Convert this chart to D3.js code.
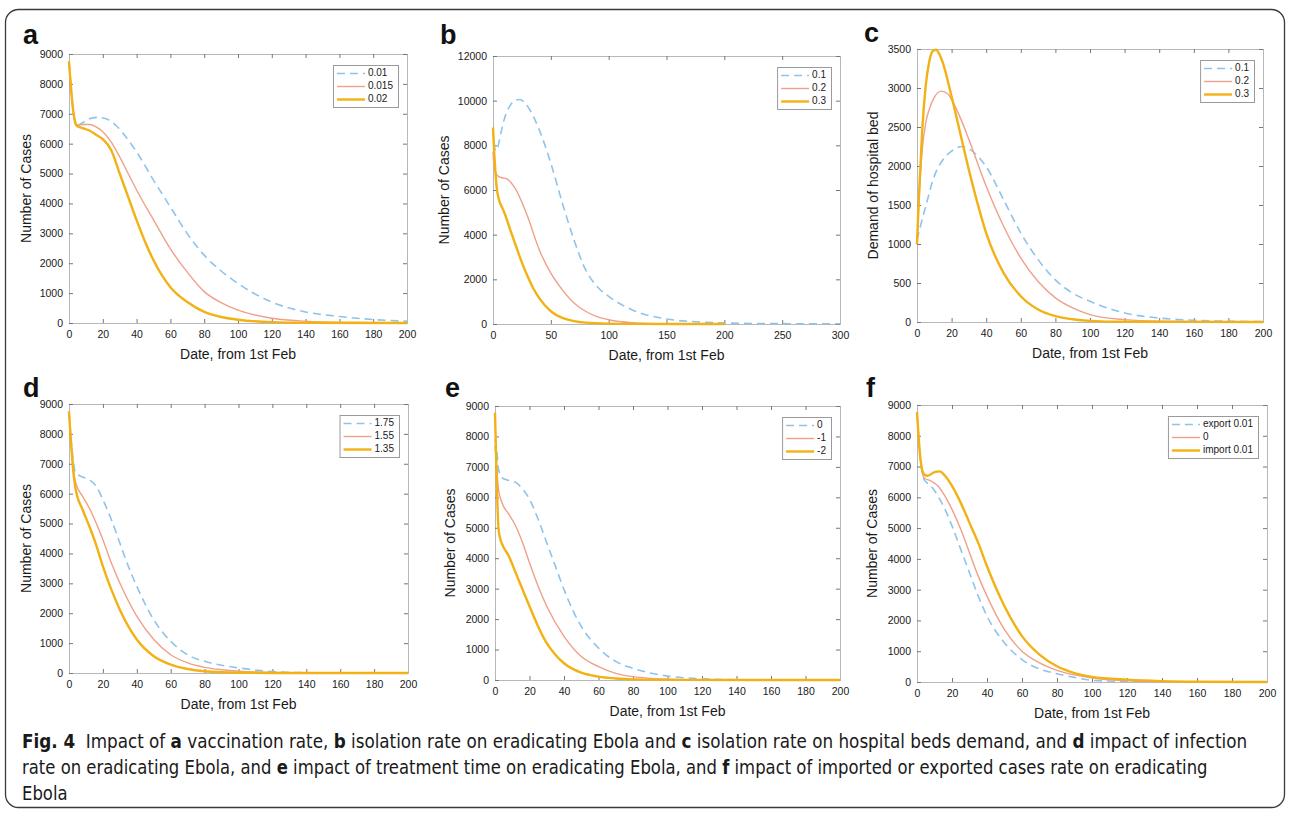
<!DOCTYPE html>
<html>
<head>
<meta charset="utf-8">
<script src="https://cdn.jsdelivr.net/npm/d3@7"></script>
<style>
  body { margin: 0; background: #fff; }
  svg { display: block; }
</style>
</head>
<body>
<div id="viz"></div>
<script>
// ---- data: [day, value] ----
// a: vaccination rate
const a001 = [[0,8750],[1,8000],[2,7350],[3,6900],[4,6680],[5,6620],[8,6700],[12,6830],[17,6880],[22,6830],[28,6600],[34,6200],[40,5725],[50,4780],[60,3880],[70,2990],[80,2270],[90,1740],[100,1320],[120,700],[140,370],[160,220],[180,115],[200,60]]
const a0015 = [[0,8750],[1,8000],[2,7350],[3,6900],[4,6680],[5,6620],[8,6640],[12,6640],[16,6560],[20,6400],[25,6050],[30,5560],[35,5000],[40,4450],[50,3450],[60,2480],[70,1700],[80,1050],[90,680],[100,430],[120,160],[140,60],[160,20],[200,0]]
const a002 = [[0,8750],[1,8000],[2,7350],[3,6900],[4,6650],[5,6580],[8,6520],[12,6440],[16,6300],[20,6150],[25,5780],[30,5000],[35,4220],[40,3440],[45,2720],[50,2100],[60,1200],[70,700],[80,370],[90,200],[100,110],[120,30],[140,10],[200,0]]
// b: isolation rate
const b01 = [[0,8700],[1,8100],[2,7750],[4,7900],[7,8600],[10,9210],[15,9800],[20,10030],[23,10050],[30,9740],[40,8690],[50,7200],[60,5410],[70,3770],[80,2430],[90,1680],[100,1240],[120,640],[150,225],[175,100],[200,45],[250,15],[300,10]]
const b02 = [[0,7700],[1,7050],[3,6700],[5,6600],[8,6550],[12,6500],[16,6300],[20,6000],[25,5450],[30,4800],[40,3320],[50,2280],[60,1530],[70,940],[80,570],[90,330],[100,190],[120,60],[150,10],[200,0]]
const b03 = [[0,8800],[1,7700],[2,6900],[3,6200],[5,5600],[8,5200],[10,4960],[15,4200],[20,3470],[25,2750],[30,2130],[35,1580],[40,1160],[50,570],[60,270],[70,130],[80,60],[100,15],[120,5],[200,0]]
// c: hospital bed demand
const c01 = [[0,1050],[2,1230],[5,1480],[10,1870],[15,2080],[20,2190],[26,2250],[30,2220],[35,2130],[40,1990],[50,1570],[60,1140],[70,800],[80,540],[90,370],[100,265],[120,115],[140,50],[160,22],[180,10],[200,5]]
const c02 = [[0,1000],[1,1500],[3,2200],[5,2550],[7,2720],[10,2880],[14,2960],[18,2920],[20,2850],[25,2620],[30,2340],[40,1740],[50,1230],[60,820],[70,520],[80,310],[90,180],[100,95],[120,30],[140,10],[200,0]]
const c03 = [[0,1000],[1,1550],[2,2000],[3,2450],[5,3020],[7,3330],[9,3470],[11,3490],[13,3430],[15,3320],[20,2890],[25,2420],[30,1950],[35,1520],[40,1140],[50,630],[60,330],[70,160],[80,75],[90,35],[100,15],[120,3],[200,0]]
// d: infection rate
const d175 = [[0,8750],[1,8000],[2,7360],[3,6900],[4,6690],[8,6560],[12,6470],[16,6250],[20,5800],[25,5130],[30,4350],[35,3570],[40,2900],[50,1780],[60,1060],[70,610],[80,390],[90,260],[100,170],[120,50],[140,10],[200,0]]
const d155 = [[0,8750],[1,7900],[2,7200],[3,6650],[4,6360],[8,5910],[12,5520],[16,5020],[20,4460],[25,3680],[30,3010],[40,1900],[50,1120],[60,610],[70,340],[80,190],[90,110],[100,60],[120,15],[140,3],[200,0]]
const d135 = [[0,8750],[1,7850],[2,7100],[3,6500],[4,6130],[8,5470],[12,4910],[16,4290],[20,3570],[25,2790],[30,2120],[35,1560],[40,1120],[50,560],[60,280],[70,135],[80,60],[90,25],[100,10],[120,2],[200,0]]
// e: treatment time
const e0 = [[0,7900],[1,7590],[2,6930],[4,6650],[8,6550],[12,6490],[16,6270],[20,5940],[25,5280],[30,4510],[35,3740],[40,2970],[50,1760],[60,1050],[70,610],[80,385],[90,230],[100,130],[120,40],[140,8],[200,0]]
const eM1 = [[0,7700],[1,7000],[2,6270],[4,5830],[8,5450],[12,5060],[16,4510],[20,3850],[25,3080],[30,2420],[40,1430],[50,770],[60,440],[70,220],[80,110],[90,55],[100,30],[120,5],[200,0]]
const eM2 = [[0,8780],[1,6500],[2,5000],[3,4650],[4,4480],[8,4070],[12,3520],[16,2970],[20,2420],[25,1760],[30,1210],[35,830],[40,550],[50,240],[60,110],[70,50],[80,20],[100,5],[200,0]]
// f: imported / exported cases
const fExport = [[0,8750],[1,7900],[2,7200],[3,6800],[4,6580],[8,6370],[12,6040],[16,5610],[20,5070],[25,4310],[30,3550],[35,2790],[40,2140],[50,1270],[60,730],[70,420],[80,270],[90,150],[100,55],[120,15],[140,3],[200,0]]
const f0 = [[0,8750],[1,7900],[2,7200],[3,6800],[4,6640],[8,6530],[12,6370],[16,6040],[20,5610],[25,4960],[30,4200],[35,3440],[40,2790],[50,1700],[60,1000],[70,620],[80,380],[90,230],[100,130],[120,40],[140,10],[200,0]]
const fImport = [[0,8770],[1,7900],[2,7230],[3,6880],[4,6750],[6,6700],[10,6820],[13,6845],[16,6700],[20,6370],[25,5820],[30,5170],[35,4520],[40,3760],[50,2460],[60,1490],[70,890],[80,510],[90,290],[100,165],[120,76],[140,30],[160,10],[200,0]]

const legendA = ["0.01", "0.015", "0.02"]
const legendB = ["0.1", "0.2", "0.3"]
const legendD = ["1.75", "1.55", "1.35"]
const legendE = ["0", "-1", "-2"]
const legendF = ["export 0.01", "0", "import 0.01"]

const xTicks200 = d3.range(0, 201, 20)
const xTicks300 = d3.range(0, 301, 50)

const captionLines = [
  [["b","Fig. 4"],["n","  Impact of "],["b","a"],["n"," vaccination rate, "],["b","b"],["n"," isolation rate on eradicating Ebola and "],["b","c"],["n"," isolation rate on hospital beds demand, and "],["b","d"],["n"," impact of infection"]],
  [["n","rate on eradicating Ebola, and "],["b","e"],["n"," impact of treatment time on eradicating Ebola, and "],["b","f"],["n"," impact of imported or exported cases rate on eradicating"]],
  [["n","Ebola"]]
]

// ---- styles ----
const seriesStyle = [
  { color: "#8ec4ec", width: 1.6, dash: "8,5" },
  { color: "#f0a088", width: 1.4, dash: null },
  { color: "#f2b114", width: 2.4, dash: null }
]

const W = 1290, H = 816
const font = "'Liberation Sans', Arial, sans-serif"

// panel layout: plot box in pixels
const panels = [
  { label: "a", lx: 23, ly: 44, box: [69, 407, 54, 323], xMax: 200, xTicks: xTicks200, yMax: 9000, yStep: 1000, ytitle: "Number of Cases", tOff: 42, legend: legendA, series: [a001, a0015, a002] },
  { label: "b", lx: 440, ly: 44, box: [493, 840, 56, 324], xMax: 300, xTicks: xTicks300, yMax: 12000, yStep: 2000, ytitle: "Number of Cases", tOff: 48, legend: legendB, series: [b01, b02, b03] },
  { label: "c", lx: 864, ly: 42, box: [917, 1263, 49, 322], xMax: 200, xTicks: xTicks200, yMax: 3500, yStep: 500, ytitle: "Demand of hospital bed", tOff: 43, legend: legendB, series: [c01, c02, c03] },
  { label: "d", lx: 23, ly: 397, box: [69, 408, 404, 673], xMax: 200, xTicks: xTicks200, yMax: 9000, yStep: 1000, ytitle: "Number of Cases", tOff: 42, legend: legendD, series: [d175, d155, d135] },
  { label: "e", lx: 445, ly: 397, box: [495, 840, 406, 680], xMax: 200, xTicks: xTicks200, yMax: 9000, yStep: 1000, ytitle: "Number of Cases", tOff: 44, legend: legendE, series: [e0, eM1, eM2] },
  { label: "f", lx: 866, ly: 397, box: [917, 1267, 405, 682], xMax: 200, xTicks: xTicks200, yMax: 9000, yStep: 1000, ytitle: "Number of Cases", tOff: 44, legend: legendF, series: [fExport, f0, fImport] }
]

const svg = d3.select("#viz").append("svg")
  .attr("width", W)
  .attr("height", H)
  .style("font-family", font)

// outer frame
svg.append("rect")
  .attr("x", 5.5).attr("y", 9.5)
  .attr("width", 1279).attr("height", 798)
  .attr("rx", 13).attr("ry", 13)
  .attr("fill", "none")
  .attr("stroke", "#3a3a3a")
  .attr("stroke-width", 1.3)

panels.forEach(drawPanel)

function drawPanel(p) {
  const [L, R, T, B] = p.box
  const x = d3.scaleLinear().domain([0, p.xMax]).range([L, R])
  const y = d3.scaleLinear().domain([0, p.yMax]).range([B, T])
  const g = svg.append("g")

  // panel letter
  g.append("text")
    .attr("x", p.lx).attr("y", p.ly)
    .attr("font-size", 27).attr("font-weight", "bold")
    .attr("fill", "#111")
    .text(p.label)

  const yTicks = d3.range(0, p.yMax + 1, p.yStep)

  // axes (MATLAB style: ticks inside, mirrored)
  const axB = d3.axisBottom(x).tickValues(p.xTicks).tickSize(-4).tickPadding(8).tickFormat(d3.format("d"))
  const axT = d3.axisTop(x).tickValues(p.xTicks).tickSize(-4).tickFormat("")
  const axL = d3.axisLeft(y).tickValues(yTicks).tickSize(-4).tickPadding(6).tickFormat(d3.format("d"))
  const axR = d3.axisRight(y).tickValues(yTicks).tickSize(-4).tickFormat("")

  const axes = [
    g.append("g").attr("transform", `translate(0,${B})`).call(axB),
    g.append("g").attr("transform", `translate(0,${T})`).call(axT),
    g.append("g").attr("transform", `translate(${L},0)`).call(axL),
    g.append("g").attr("transform", `translate(${R},0)`).call(axR)
  ]
  axes.forEach(a => {
    a.select(".domain").attr("stroke", "#b8b8b8").attr("stroke-width", 1)
    a.selectAll(".tick line").attr("stroke", "#777")
    a.selectAll(".tick text").attr("fill", "#1a1a1a").attr("font-size", 10.5).attr("font-family", font)
  })

  // lines
  const line = d3.line()
    .x(d => x(d[0]))
    .y(d => y(d[1]))
    .curve(d3.curveMonotoneX)

  p.series.forEach((s, i) => {
    const st = seriesStyle[i]
    g.append("path")
      .datum(s)
      .attr("fill", "none")
      .attr("stroke", st.color)
      .attr("stroke-width", st.width)
      .attr("stroke-dasharray", st.dash)
      .attr("stroke-linejoin", "round")
      .attr("d", line)
  })

  // axis titles
  g.append("text")
    .attr("x", (L + R) / 2).attr("y", B + 36)
    .attr("text-anchor", "middle")
    .attr("font-size", 14).attr("fill", "#1a1a1a")
    .text("Date, from 1st Feb")

  g.append("text")
    .attr("transform", `translate(${L - p.tOff},${(T + B) / 2}) rotate(-90)`)
    .attr("text-anchor", "middle")
    .attr("dominant-baseline", "middle")
    .attr("font-size", 14).attr("fill", "#1a1a1a")
    .text(p.ytitle)

  // legend
  const lg = g.append("g")
  const texts = p.legend.map((t, i) => lg.append("text")
    .attr("font-size", 10).attr("fill", "#1a1a1a")
    .attr("dominant-baseline", "middle")
    .text(t))
  const tw = d3.max(texts, t => t.node().getComputedTextLength())
  const lineLen = 28
  const bw = 4 + lineLen + 3 + tw + 5
  const bh = 42
  const bx = R - 9 - bw, by = T + 11
  lg.insert("rect", ":first-child")
    .attr("x", bx + 0.5).attr("y", by + 0.5)
    .attr("width", bw).attr("height", bh)
    .attr("fill", "#fff")
    .attr("stroke", "#9a9a9a")
  p.legend.forEach((t, i) => {
    const yy = by + 8 + i * 13 + 0.5
    const st = seriesStyle[i]
    lg.append("line")
      .attr("x1", bx + 4).attr("x2", bx + 4 + lineLen)
      .attr("y1", yy).attr("y2", yy)
      .attr("stroke", st.color)
      .attr("stroke-width", st.width)
      .attr("stroke-dasharray", st.dash)
    texts[i].attr("x", bx + 4 + lineLen + 3).attr("y", yy)
  })
}

// caption: condensed by a horizontal scale so the line widths match
const capFont = "'Liberation Sans Narrow', 'DejaVu Sans Condensed', 'Liberation Sans', sans-serif"
const capWidths = [1226, 1186, null]
let lastScale = 1
captionLines.forEach((parts, i) => {
  const t = svg.append("text")
    .attr("x", 0).attr("y", 0)
    .attr("font-size", 20)
    .attr("font-family", capFont)
    .attr("fill", "#1a1a1a")
    .attr("xml:space", "preserve")
  parts.forEach(([w, s]) => {
    t.append("tspan")
      .attr("font-weight", w === "b" ? "bold" : "normal")
      .text(s)
  })
  const natural = t.node().getComputedTextLength()
  const s = capWidths[i] ? capWidths[i] / natural : lastScale
  lastScale = s
  t.attr("transform", `translate(22,${748 + i * 26}) scale(${s},1)`)
})
</script>
</body>
</html>
